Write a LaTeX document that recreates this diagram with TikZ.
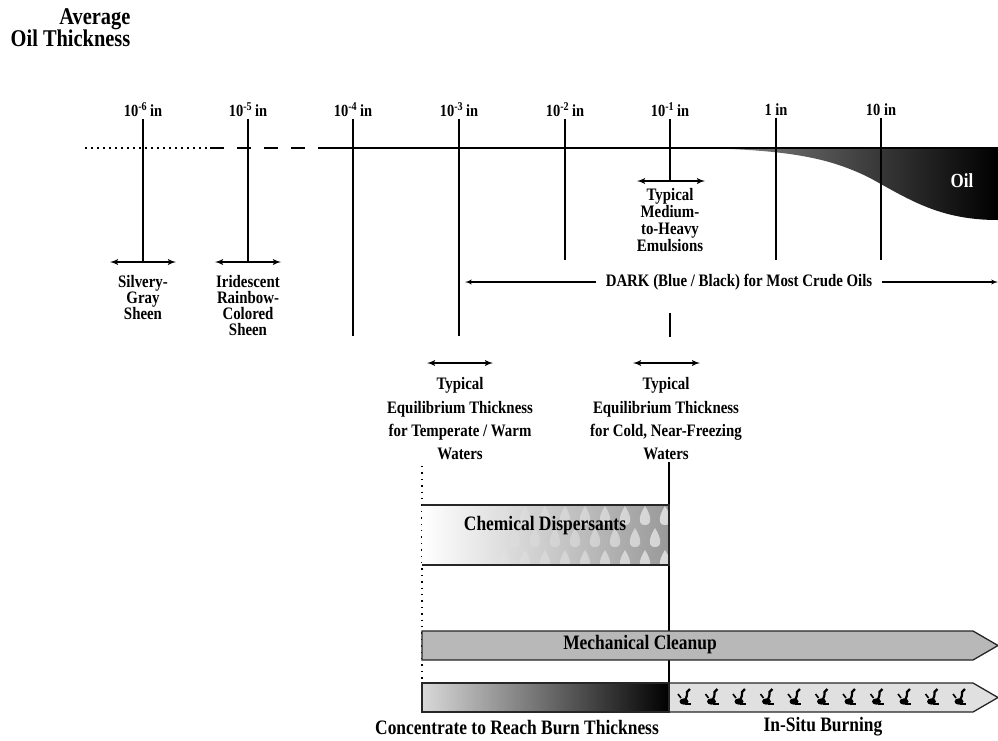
\documentclass[tikz,border=0pt]{standalone}
\usepackage{fontspec}
\setmainfont{Liberation Serif}[FakeStretch=0.85]
\usepackage{tikz}
\usetikzlibrary{shapes,arrows,positioning,calc}
\tikzset{
lbl/.style = {font=\bfseries\fontsize{17.5}{16}\selectfont, align=center, inner sep=1pt},
widelbl/.style = {lbl, font=\bfseries\fontsize{17.5}{23.3}\selectfont},
ticklbl/.style = {font=\bfseries\fontsize{17}{17}\selectfont, inner sep=1pt},
bigtxt/.style = {font=\bfseries\fontsize{20.5}{21}\selectfont, inner sep=1pt},
headtxt/.style = {font=\bfseries\fontsize{24}{22}\selectfont, align=right, inner sep=0pt},
rng/.style = {<->, line width=1.8pt},
dots/.style = {line width=1.5pt, dash pattern=on 1.5pt off 4.5pt},
band/.style = {draw=black!85, line width=1.3pt},
drop/.pic = {\fill [white] (0,-11) .. controls (7,0) and (7,8) .. (0,8) .. controls (-7,8) and (-7,0) .. (0,-11);},
flame/.pic = {
  \fill (0,4.5) ellipse [x radius=4.5, y radius=3.2];
  \draw [line width=2.2pt] (1,3) .. controls (3,-1) .. (3,-5) -- (6,-8);
  \draw [line width=1.6pt] (-6,-3) -- (-3,1);
  \draw [line width=1.6pt] (1,7) -- (7,7);}
}

\begin{document}
\begin{tikzpicture}[x=1pt, y=-1pt, >=latex', line width=1.3pt]
    \useasboundingbox (0,0) rectangle (998,740);
    \node [headtxt, anchor=north east] (head) at (131,8) {Average\\Oil Thickness};

    % oil layer
    \shade [left color=black!45, right color=black] (700,148) .. controls (790,150) and (830,158) .. (870,178)
        .. controls (910,200) and (940,220) .. (998,220) -- (998,148) -- cycle;
    \node [lbl, text=white, font=\bfseries\fontsize{20}{20}\selectfont] (oil) at (962,181) {Oil};

    % thickness scale
    \draw [dots] (85,148) -- (210,148);
    \draw [dash pattern=on 14pt off 13pt] (210,148) -- (318,148);
    \draw (318,148) -- (998,148);
    \foreach \x/\txt/\y [count=\i] in {143/{10\textsuperscript{-6}\,in}/262, 248/{10\textsuperscript{-5}\,in}/262,
        353/{10\textsuperscript{-4}\,in}/336, 459/{10\textsuperscript{-3}\,in}/336, 565/{10\textsuperscript{-2}\,in}/260,
        670/{10\textsuperscript{-1}\,in}/181, 776/{1 in}/260, 881/{10 in}/260}
    {
        \node [ticklbl] (t\i) at (\x,110) {\txt};
        \coordinate (b\i) at (\x,\y);
        \draw (t\i.south) -- (b\i);
    }

    % appearance ranges
    \draw [rng] ($(b1)+(-33,0)$) -- ($(b1)+(33,0)$);
    \draw [rng] ($(b2)+(-33,0)$) -- ($(b2)+(33,0)$);
    \draw [rng] ($(b6)+(-33,0)$) -- ($(b6)+(35,0)$);
    \node [lbl, below=12pt of b1] (silver) {Silvery-\\Gray\\Sheen};
    \node [lbl, below=12pt of b2] (rainbow) {Iridescent\\Rainbow-\\Colored\\Sheen};
    \node [lbl, below=6pt of b6, font=\bfseries\fontsize{17.5}{16.8}\selectfont] (emuls) {Typical\\Medium-\\to-Heavy\\Emulsions};

    \node [lbl, inner xsep=9pt] (dark) at (739,282) {DARK (Blue / Black) for Most Crude Oils};
    \coordinate (darkl) at (465,282);
    \coordinate (darkr) at (998,282);
    \draw [->] (dark) -- (darkl);
    \draw [->] (dark) -- (darkr);

    % equilibrium thickness
    \coordinate (cold) at (670,337);
    \draw (670,313) -- (cold);
    \coordinate (warmarr) at (460,363);
    \coordinate (coldarr) at (666,363);
    \draw [rng] ($(warmarr)+(-33,0)$) -- ($(warmarr)+(33,0)$);
    \draw [rng] ($(coldarr)+(-33,0)$) -- ($(coldarr)+(34,0)$);
    \node [widelbl, below=13pt of warmarr] (eqwarm) {Typical\\Equilibrium Thickness\\for Temperate / Warm\\Waters};
    \node [widelbl, below=13pt of coldarr] (eqcold) {Typical\\Equilibrium Thickness\\for Cold, Near-Freezing\\Waters};

    % response options
    \draw [dots, line width=1.4pt, dash pattern=on 1.4pt off 5pt] (422,466) -- (422,696);
    \draw (669,462) -- (669,683);

    \shade [left color=white, right color=black!40] (422,505) rectangle (669,565);
    \begin{scope}
        \clip (422,505) rectangle (669,565);
        \foreach \c in {0,...,8}
            \foreach \r in {0,1,2}
            {
                \pgfmathsetmacro\op{0.08+0.07*\c}
                \pic [fill opacity=\op] at ({505+20*\c+10*mod(\r,2)},{517+22*\r}) {drop};
            }
    \end{scope}
    \draw [band] (422,505) -- (669,505) -- (669,565) -- (422,565);
    \node [bigtxt] (chem) at (545,526) {Chemical Dispersants};

    \draw [band, fill=black!28] (422,631) -- (973,631) -- (998,645.5) -- (973,660) -- (422,660) -- cycle;
    \node [bigtxt] (mech) at (640,645) {Mechanical Cleanup};

    \shade [left color=black!15, right color=black] (422,683) rectangle (669,712);
    \draw [band, fill=black!12] (669,683) -- (973,683) -- (998,697.5) -- (973,712) -- (669,712) -- cycle;
    \draw [band] (422,683) rectangle (669,712);
    \foreach \i in {0,...,10}
        \pic at ({684+27.5*\i},697) {flame};
    \node [bigtxt] (conc) at (517,727) {Concentrate to Reach Burn Thickness};
    \node [bigtxt] (burn) at (823,727) {In-Situ Burning};
\end{tikzpicture}
\end{document}
